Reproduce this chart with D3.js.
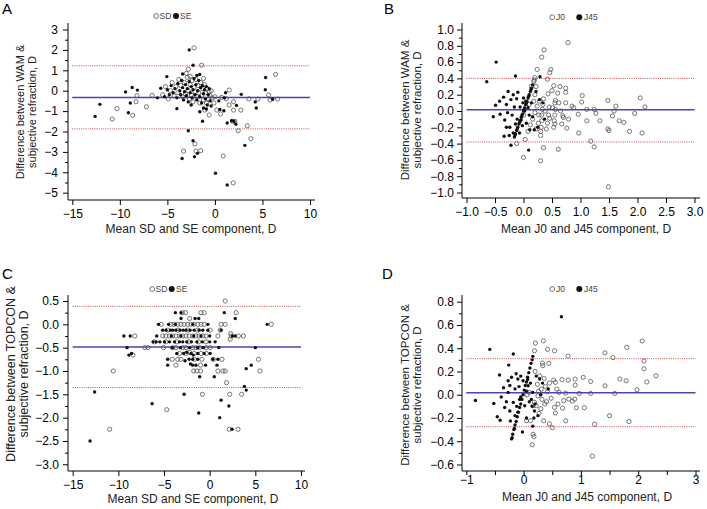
<!DOCTYPE html>
<html><head><meta charset="utf-8">
<script src="https://cdn.jsdelivr.net/npm/d3@7"></script>
<style>body{margin:0;background:#fff} svg{display:block} text{font-family:"Liberation Sans",Arial,Helvetica,sans-serif}</style>
</head><body><svg id="c" width="707" height="509"></svg>
<script>
// ---------- DATA ----------
const seriesAC = ["SD","SE"];
const seriesBD = ["J0","J45"];
const yTitleA = ["Difference between WAM &","subjective refraction, D"];
const yTitleB = ["Difference between WAM &","subjective refraction, D"];
const yTitleC = ["Difference between TOPCON &","subjective refraction, D"];
const yTitleD = ["Difference between TOPCON &","subjective refraction, D"];
const xTitleAC = "Mean SD and SE component, D";
const xTitleBD = "Mean J0 and J45 component, D";

const xTicksAC = [-15,-10,-5,0,5,10];
const yTicksA = [-5,-4,-3,-2,-1,0,1,2,3];
const yMinorA = [-4.5,-3.5,-2.5,-1.5,-0.5,0.5,1.5,2.5];
const xTicksB = [-1,-0.5,0,0.5,1,1.5,2,2.5,3];
const yTicksB = [-1,-0.8,-0.6,-0.4,-0.2,0,0.2,0.4,0.6,0.8,1];
const yMinorB = [-0.9,-0.7,-0.5,-0.3,-0.1,0.1,0.3,0.5,0.7,0.9];
const yTicksC = [-3,-2.5,-2,-1.5,-1,-0.5,0,0.5];
const yMinorC = [-2.75,-2.25,-1.75,-1.25,-0.75,-0.25,0.25];
const xTicksD = [-1,0,1,2,3];
const xMinorD = [-0.5,0.5,1.5,2.5];
const yTicksD = [-0.6,-0.4,-0.2,0,0.2,0.4,0.6,0.8];
const yMinorD = [-0.5,-0.3,-0.1,0.1,0.3,0.5,0.7];

const meanA = -0.33, upA = 1.22, loA = -1.87;
const meanB = 0.015, upB = 0.40, loB = -0.38;
const meanC = -0.485, upC = 0.385, loC = -1.355;
const meanD = 0.017, upD = 0.31, loD = -0.275;

const sdA = [
[-2.2,2.1],[-1.4,1.25],[-2.8,1.05],[-10.8,-1.39],[-10.3,-0.88],[-8.65,-1.21],[-8.3,-0.54],[-8.2,-0.24],[-7.2,-0.79],[-6.6,-0.23],
[-3.3,-2.96],[-2.1,-2.61],[-2.0,-2.96],[-1.5,-2.94],[0.87,-3.2],[1.92,-4.52],[3.4,-1.72],[3.78,-2.35],[2.45,-1.96],[6.38,0.8],
[5.65,-0.21],[5.8,-0.46],[6.6,-0.41],[4.52,-0.41],[3.57,-0.4],[2.73,-0.95],[1.96,-0.95],[1.5,0.03],[1.96,-0.54],[0.2,-0.95],
[0.59,-1.14],[-0.6,-1.19],[-1.06,-0.95],[1.2,-0.4],[0.7,-0.33],[1.5,-0.7],[1.85,-1.5],[2.1,-1.5],
[-5.5,-0.2],[-5.2,0.2],[-4.9,-0.4],[-4.7,0.0],[-4.5,0.4],[-4.3,-0.25],[-4.1,0.2],[-3.9,-0.1],[-3.8,0.55],[-3.6,0.25],
[-3.4,-0.3],[-3.2,0.4],[-3.1,-0.15],[-2.9,0.65],[-2.8,0.0],[-2.7,-0.4],[-2.6,0.3],[-2.5,-0.2],[-2.4,0.5],[-2.3,-0.55],
[-2.2,0.15],[-2.1,-0.05],[-2.0,0.55],[-1.9,-0.3],[-1.8,0.25],[-1.7,-0.1],[-1.6,-0.6],[-1.5,0.4],[-1.4,-0.25],[-1.3,0.1],
[-1.2,-0.45],[-1.1,0.3],[-1.0,-0.1],[-0.9,-0.6],[-0.8,0.1],[-0.7,-0.4],[-0.6,-0.05],[-0.5,-0.25],[-0.3,-0.35],[-0.1,-0.6],
[-3.0,0.85],[-2.6,0.7],[-1.2,0.6],[-0.4,0.0],[0.0,-0.3]
];
const seA = [
[-12.6,-1.26],[-12.1,-0.67],[-9.4,-0.06],[-8.7,0.16],[-8.15,0.03],[-8.9,-0.6],[-9.1,-1.08],[-5.06,0.69],[-5.7,0.12],[-6.05,-0.35],
[-4.0,-0.88],[-2.8,-1.96],[-2.3,-2.45],[-3.45,-3.32],[-2.15,-3.24],[-1.83,-3.07],[-1.3,-1.5],[0.06,-4.05],[1.29,-4.62],[1.29,-1.58],
[1.75,-1.47],[2.0,-1.5],[2.2,-1.64],[2.27,-0.72],[2.77,-0.18],[3.15,-2.68],[4.24,-0.55],[4.35,-0.85],[5.33,0.65],[5.3,0.05],
[6.07,-0.42],[-2.7,2.0],[-2.3,1.25],[1.12,-0.1],[0.52,-0.92],[0.94,-0.98],[-1.59,-1.03],[0.41,-0.5],[1.0,-0.35],
[-5.3,-0.3],[-5.0,0.05],[-4.8,-0.2],[-4.6,0.25],[-4.4,-0.1],[-4.2,0.1],[-4.0,-0.35],[-3.9,0.35],[-3.7,0.0],[-3.6,-0.2],
[-3.5,0.5],[-3.4,0.15],[-3.3,-0.45],[-3.2,-0.05],[-3.1,0.3],[-3.0,-0.25],[-2.9,0.1],[-2.8,-0.55],[-2.7,0.45],[-2.6,-0.1],
[-2.5,0.2],[-2.4,-0.35],[-2.3,0.05],[-2.2,0.6],[-2.1,-0.2],[-2.0,0.3],[-1.9,-0.45],[-1.8,0.0],[-1.7,0.5],[-1.6,-0.3],
[-1.5,0.15],[-1.4,-0.6],[-1.3,0.25],[-1.2,-0.15],[-1.1,0.05],[-1.0,-0.4],[-0.9,0.2],[-0.8,-0.7],[-0.7,-0.2],[-0.6,0.1],
[-0.5,-0.5],[-1.9,0.75],[-1.6,0.8],[-3.4,0.82],[-2.5,-0.7],[-1.2,-0.85],[-0.9,-0.9],[-0.4,-0.75]
];

const j0B = [
[0.78,0.84],[0.36,0.75],[0.32,0.66],[0.24,0.51],[0.48,0.51],[0.46,0.47],[0.42,0.39],[0.0,-0.57],[0.03,-0.35],[0.3,-0.61],
[0.35,-0.45],[0.61,-0.47],[-0.12,-0.4],[1.49,-0.93],[1.18,-0.37],[1.24,-0.44],[2.05,0.16],[2.13,0.05],[1.95,-0.03],[2.08,-0.27],
[1.86,-0.25],[1.76,-0.14],[1.68,-0.12],[1.62,0.06],[1.59,0.0],[1.56,-0.06],[1.48,0.13],[1.48,-0.22],[1.5,-0.24],[1.34,-0.12],
[1.27,-0.03],[1.24,0.02],[1.11,0.02],[1.11,-0.12],[1.03,0.19],[1.02,0.11],[0.97,-0.27],[0.96,-0.04],[0.88,0.04],[0.85,0.06],
[0.79,-0.1],[0.76,-0.21],[0.74,0.1],[0.74,0.23],[0.74,0.28],[0.69,-0.06],[0.67,-0.16],[0.64,0.3],[0.62,0.1],[0.6,0.22],
[0.55,-0.16],[0.56,0.13],[0.53,0.31],[0.5,0.25],[0.51,0.04],[0.46,-0.09],[0.43,0.21],
[0.3,-0.3],[0.3,-0.25],[0.31,-0.2],[0.32,-0.12],[0.32,-0.05],[0.33,0.02],[0.34,0.08],[0.35,0.15],[0.28,0.12],[0.53,-0.2],
[0.54,-0.12],[0.55,-0.05],[0.56,0.02],[0.55,0.1],[0.42,-0.15],[0.44,-0.05],[0.45,0.05],[0.4,-0.22],[0.38,0.0],[0.08,-0.25],
[0.12,-0.17],[0.16,-0.1],[0.2,-0.02],[0.24,0.06],[0.26,-0.15],[0.22,-0.22],[0.18,0.12],[0.14,0.3],[0.18,0.36],[0.19,0.38],
[0.2,0.41],[0.05,0.05],[0.1,0.08],[0.0,-0.05],[0.27,-0.05],[0.2,0.2],[0.22,0.3],[0.7,-0.08],[0.65,0.0]
];
const j45B = [
[-0.48,0.6],[-0.645,0.36],[-0.14,0.43],[0.29,0.42],[-0.53,-0.07],[-0.49,0.07],[-0.41,-0.04],[-0.35,0.17],[-0.27,0.24],[-0.34,-0.31],
[-0.22,-0.42],[0.09,-0.48],[-0.33,-0.11],[-0.24,-0.2],[-0.18,-0.27],[-0.07,-0.27],[-0.04,-0.11],[0.05,-0.15],[0.11,-0.23],[0.19,-0.23],
[0.22,0.24],[0.28,0.14],[0.34,0.1],[0.37,-0.1],[0.16,-0.07],[-0.16,0.05],[-0.28,-0.02],[-0.11,-0.1],[-0.01,0.1],[0.02,0.0],
[0.08,0.04],[-0.1,0.23],[-0.18,0.2],[-0.42,0.12],[-0.3,0.08],[-0.22,0.14],[-0.2,-0.05],[-0.12,0.15],[-0.06,0.05],[-0.02,-0.18],
[0.04,0.12],[0.1,-0.05],[0.14,0.1],[0.25,-0.2],[-0.25,-0.3],[-0.3,-0.2],[-0.14,-0.16],[0.0,0.16],
[-0.16,-0.32],[-0.15,-0.3],[-0.14,-0.28],[-0.12,-0.24],[-0.11,-0.22],[-0.1,-0.2],[-0.08,-0.16],[-0.07,-0.14],[-0.06,-0.12],[-0.04,-0.08],
[-0.03,-0.06],[-0.02,-0.04],[0.0,0.0],[0.01,0.02],[0.02,0.04],[0.04,0.08],[0.05,0.1],[0.06,0.12],[0.08,0.16],[0.09,0.18],
[0.1,0.2],[0.12,0.24],[0.13,0.26],[0.14,0.28],[0.16,0.32]
];

const sdC = [
[1.7,0.5],[-10.55,-1.0],[-10.95,-2.25],[-4.7,-1.83],[6.75,0.0],[5.35,-0.75],[5.5,-1.0],[2.15,-2.25],[3.1,-2.25],[-0.8,-1.5],
[2.2,-1.5],[3.5,-1.5],[1.85,-1.25],[0.9,-1.0],[1.45,-1.0],[1.7,-1.0],[-8.2,-0.25],[-7.1,-0.5],[-6.75,-0.5],[-8.4,-0.66],
[-5.05,-0.5],[2.9,0.25],[3.7,-0.25],[2.35,-0.25],[3.15,-0.25],[2.25,-0.32],[1.25,0.0],[1.7,0.0],[1.15,-0.125],[0.9,-0.25],
[1.35,-0.75],[-1.75,-1.0],[-1.4,-1.0],[-1.0,-1.0],[2.3,-0.2],
[-3.0,0.25],[-2.65,0.25],[-0.95,0.25],[-0.6,0.25],[-2.2,0.125],
[-5.3,0],[-4.25,0],[-3.9,0],[-3.5,0],[-3.15,0],[-2.8,0],[-2.4,0],[-2.05,0],[-1.7,0],[-1.3,0],[-0.95,0],[-0.6,0],
[-4.6,-0.125],[-3.45,-0.125],[-2.4,-0.125],[-1.3,-0.125],[0.05,-0.125],
[-5.15,-0.25],[-4.8,-0.25],[-4.4,-0.25],[-4.05,-0.25],[-3.7,-0.25],[-3.3,-0.25],[-2.95,-0.25],[-2.6,-0.25],[-2.25,-0.25],[-1.85,-0.25],[-1.5,-0.25],[-1.15,-0.25],[-0.75,-0.25],[-0.4,-0.25],
[-6.05,-0.375],[-4.8,-0.375],[-3.6,-0.375],[-2.3,-0.375],[-1.2,-0.375],[-0.4,-0.375],
[-4.05,-0.5],[-3.7,-0.5],[-2.95,-0.5],[-2.6,-0.5],[-1.85,-0.5],[-1.5,-0.5],[-1.1,-0.5],[-0.4,-0.5],[0.05,-0.5],
[-3.3,-0.625],[-2.6,-0.625],[-1.7,-0.625],[-0.95,-0.625],[-0.35,-0.625],[-2.2,-0.6],
[-4.1,-0.75],[-3.5,-0.75],[-3.15,-0.75],[-1.7,-0.75],[-0.85,-0.75],[0.4,-0.75],
[-3.7,-0.875],[-1.0,-0.875]
];
const seC = [
[-13.1,-2.5],[-12.6,-1.45],[-9.4,-0.25],[-8.7,-0.25],[-9.05,-0.5],[-8.85,-0.66],[-8.55,-0.625],[-6.3,-1.7],[-2.8,-1.5],[-1.2,-1.9],
[1.1,-2.0],[1.25,-1.625],[2.1,-1.75],[2.45,-2.25],[1.6,0.25],[2.8,0.125],[6.3,0.0],[5.0,-0.5],[4.0,-0.95],[4.55,-0.875],
[3.8,-1.33],[4.0,-1.41],[0.5,-1.125],[-1.1,-1.125],
[-3.76,0.25],[-3.14,0.25],[-3.14,0.125],[-1.6,0.125],[-1.2,0.125],
[-5.6,0],[-4.5,0],[-3.75,0],[-1.85,0],[-0.2,0],
[-5.15,-0.125],[-4.78,-0.125],[-4.3,-0.125],[-4.05,-0.125],[-3.7,-0.125],[-3.25,-0.125],[-2.9,-0.125],[-2.6,-0.125],[-2.15,-0.125],[-1.7,-0.125],[-1.15,-0.125],[-0.75,-0.125],[-0.2,-0.125],[1.25,-0.125],
[-5.8,-0.25],[-4.2,-0.25],[-3.15,-0.25],[-1.75,-0.25],[-0.95,-0.25],[0.0,-0.25],[2.5,-0.25],[2.8,-0.25],
[-6.2,-0.375],[-5.85,-0.375],[-5.45,-0.375],[-4.95,-0.375],[-4.4,-0.375],[-3.85,-0.375],[-3.3,-0.375],[-2.95,-0.375],[-2.5,-0.375],[-2.0,-0.375],[-1.4,-0.375],[-0.8,-0.375],[0.0,-0.375],[0.6,-0.375],
[-4.1,-0.5],[-3.2,-0.5],[-2.2,-0.5],[-1.3,-0.5],[-0.7,-0.5],[1.0,-0.5],
[-3.6,-0.625],[-2.85,-0.625],[-2.05,-0.625],[-1.3,-0.625],[-0.6,-0.625],[0.05,-0.625],[-2.5,-0.6],[-1.8,-0.66],
[-4.6,-0.75],[-2.25,-0.75],[-1.85,-0.75],[-1.3,-0.75],[0.35,-0.75],[0.9,-0.75],[-2.7,-0.78],
[-4.6,-0.875],[-1.85,-0.875],[-1.5,-0.875],[-0.45,-0.875],[0.8,-0.875],[-2.1,-0.85]
];

const j0D = [
[0.205,0.444],[0.345,0.464],[0.19,0.378],[0.42,0.39],[0.54,0.378],[0.776,0.332],[1.42,0.36],[1.56,0.32],[1.8,0.407],[2.07,0.462],
[2.1,0.29],[2.1,0.223],[2.15,0.11],[2.31,0.163],[1.98,0.043],[1.79,0.12],[1.68,0.135],[1.42,0.077],[1.59,0.011],[1.5,-0.18],
[1.84,-0.23],[1.24,-0.253],[1.2,-0.528],[1.17,0.011],[1.17,0.114],[1.04,0.149],[0.97,0.011],[1.06,-0.112],[0.9,0.134],[0.9,0.083],
[0.89,-0.038],[0.92,-0.112],[0.85,-0.055],[0.79,-0.038],[0.73,0.014],[0.78,0.126],[0.67,0.129],[0.735,-0.224],[0.68,-0.115],[0.58,0.048],
[0.555,0.106],[0.525,0.126],[0.6,-0.08],[0.555,-0.158],[0.54,-0.109],[0.5,-0.284],[0.45,-0.25],[0.35,-0.224],[0.415,0.026],[0.38,0.071],
[0.33,0.272],[0.335,0.25],[0.44,0.27],[0.28,0.163],[0.31,0.048],[0.25,-0.01],[0.19,-0.066],[0.165,-0.095],[0.22,-0.095],[0.37,-0.08],
[0.05,-0.224],[0.12,-0.224],[0.165,-0.34],[0.18,-0.36],[0.15,-0.43],[0.3,-0.12],[0.27,-0.16],[0.4,-0.06],[0.45,0.1],[0.24,0.09],
[0.2,0.2],[0.36,0.14],[0.62,0.02],[0.7,-0.05],[0.48,-0.03],[0.26,0.03],[0.32,-0.04],[0.06,0.0],[0.1,0.02]
];
const j45D = [
[0.66,0.67],[-0.59,0.39],[-0.18,0.35],[-0.84,-0.05],[-0.52,-0.075],[-0.42,0.17],[-0.26,0.255],[-0.39,-0.02],[-0.41,-0.22],[-0.23,-0.225],
[-0.16,-0.29],[-0.2,-0.37],[-0.21,-0.38],[-0.02,-0.32],[0.16,-0.27],[-0.46,-0.19],[-0.33,-0.11],[-0.27,0.12],[-0.21,0.15],[-0.13,0.18],
[-0.1,0.135],[-0.01,0.12],[0.08,0.077],[0.16,0.02],[0.19,-0.14],[0.25,-0.18],[0.22,0.16],[0.28,0.135],[0.43,0.05],[0.135,-0.04],
[0.02,-0.095],[-0.07,-0.04],[-0.18,-0.066],[-0.27,0.02],[-0.35,0.06],[-0.3,-0.06],[-0.24,0.08],[-0.15,0.05],[-0.12,-0.1],[-0.08,0.07],
[-0.05,-0.02],[0.05,0.03],[0.1,-0.06],[0.12,0.1],[-0.15,-0.18],[-0.1,-0.15],[0.05,-0.2],[0.2,-0.08],[0.3,0.0],[0.33,0.1],
[-0.05,0.16],[0.07,0.13],[0.18,-0.2],[-0.24,-0.14],[0.15,-0.1],
[-0.19,-0.34],[-0.17,-0.3],[-0.15,-0.26],[-0.13,-0.23],[-0.11,-0.19],[-0.09,-0.15],[-0.07,-0.11],[-0.05,-0.08],[-0.03,-0.04],[-0.01,0.0],
[0.01,0.04],[0.03,0.08],[0.05,0.11],[0.07,0.15],[0.09,0.19],[0.11,0.23],[0.13,0.27],[0.15,0.3],[0.16,0.33]
];

// ---------- DRAW ----------
const FONT = '"Liberation Sans",Arial,Helvetica,sans-serif';
const fInt = d3.format("d"), f1 = d3.format(".1f");
const svg = d3.select("#c");

const panels = [
 {letter:"A", lx:2, ly:14, open:sdA, filled:seA, names:seriesAC, mean:meanA, up:upA, lo:loA,
  xTicks:xTicksAC, xMinor:[], yTicks:yTicksA, yMinor:yMinorA, xFmt:fInt, yFmt:fInt,
  xd:[-15,10], xr:[72.3,310], yd:[3,-5], yr:[29.5,192.7], box:{l:68,r:315,t:23,b:200}, ypad:5,
  xts:5, xpad:4.5,
  xTitle:xTitleAC, xtx:191, xty:233, yTitle:yTitleA, ytf:11, yt1:24, yt2:36, yty:112,
  leg:{c1:156.7, t1:159.5, c2:176, t2:180, y:16}},
 {letter:"B", lx:384, ly:14, open:j0B, filled:j45B, names:seriesBD, mean:meanB, up:upB, lo:loB,
  xTicks:xTicksB, xMinor:[], yTicks:yTicksB, yMinor:yMinorB, xFmt:f1, yFmt:f1,
  xd:[-1,3], xr:[466.5,694.5], yd:[1,-1], yr:[29.5,192.5], box:{l:462,r:700,t:23,b:198}, ypad:3,
  xts:5, xpad:4.5,
  xTitle:xTitleBD, xtx:586, xty:233, yTitle:yTitleB, ytf:11.5, yt1:409, yt2:421, yty:110,
  leg:{c1:552.7, t1:556, c2:579.3, t2:584, y:17.3}},
 {letter:"C", lx:2, ly:278.5, open:sdC, filled:seC, names:seriesAC, mean:meanC, up:upC, lo:loC,
  xTicks:xTicksAC, xMinor:[], yTicks:yTicksC, yMinor:yMinorC, xFmt:fInt, yFmt:f1,
  xd:[-15,10], xr:[72.7,301], yd:[0.5,-3], yr:[301,464.3], box:{l:68,r:305,t:295,b:471}, ypad:4,
  xts:5, xpad:4.5,
  xTitle:xTitleAC, xtx:193, xty:503, yTitle:yTitleC, ytf:12.5, yt1:15, yt2:27.5, yty:374,
  leg:{c1:152.7, t1:155.5, c2:171.7, t2:176, y:289}},
 {letter:"D", lx:382, ly:278.5, open:j0D, filled:j45D, names:seriesBD, mean:meanD, up:upD, lo:loD,
  xTicks:xTicksD, xMinor:xMinorD, yTicks:yTicksD, yMinor:yMinorD, xFmt:fInt, yFmt:f1,
  xd:[-1,3], xr:[466.3,695.5], yd:[0.8,-0.6], yr:[301.7,464.5], box:{l:462,r:700,t:295,b:471}, ypad:3,
  xts:4, xpad:0,
  xTitle:xTitleBD, xtx:587, xty:501, yTitle:yTitleD, ytf:11.5, yt1:409, yt2:421, yty:385,
  leg:{c1:552.7, t1:556, c2:579.3, t2:584, y:289}}
];

function styleAxis(sel){
  sel.select(".domain").remove();
  sel.attr("font-family", FONT).attr("font-size", 12);
  sel.selectAll("line").attr("stroke","#000");
  sel.selectAll("text").attr("fill","#000");
}

panels.forEach(p => {
  const g = svg.append("g");
  const x = d3.scaleLinear().domain(p.xd).range(p.xr);
  const y = d3.scaleLinear().domain(p.yd).range(p.yr);

  g.append("text").attr("x", p.lx).attr("y", p.ly).attr("font-size", 15).attr("fill","#000").text(p.letter);

  // reference lines
  g.append("line").attr("x1", x(p.xd[0])).attr("x2", x(p.xd[1])).attr("y1", y(p.up)).attr("y2", y(p.up))
    .attr("stroke","#d04848").attr("stroke-width",1).attr("stroke-dasharray","1,1.2");
  g.append("line").attr("x1", x(p.xd[0])).attr("x2", x(p.xd[1])).attr("y1", y(p.lo)).attr("y2", y(p.lo))
    .attr("stroke","#d04848").attr("stroke-width",1).attr("stroke-dasharray","1,1.2");
  g.append("line").attr("x1", x(p.xd[0])).attr("x2", x(p.xd[1])).attr("y1", y(p.mean)).attr("y2", y(p.mean))
    .attr("stroke","#4646b4").attr("stroke-width",1.6);

  // points
  g.append("g").selectAll("circle").data(p.open).join("circle")
    .attr("cx", d => x(d[0])).attr("cy", d => y(d[1])).attr("r", 2.1)
    .attr("fill","none").attr("stroke","#555").attr("stroke-width",0.8);
  g.append("g").selectAll("circle").data(p.filled).join("circle")
    .attr("cx", d => x(d[0])).attr("cy", d => y(d[1])).attr("r", 1.7)
    .attr("fill","#111");

  // axes
  g.append("path").attr("d", `M${p.box.l},${p.box.t}V${p.box.b}H${p.box.r}`)
    .attr("fill","none").attr("stroke","#000").attr("stroke-width",1);
  g.append("g").attr("transform", `translate(${p.box.l},0)`)
    .call(d3.axisLeft(y).tickValues(p.yTicks).tickSize(5).tickPadding(p.ypad).tickFormat(p.yFmt)).call(styleAxis);
  g.append("g").attr("transform", `translate(${p.box.l},0)`)
    .call(d3.axisLeft(y).tickValues(p.yMinor).tickSize(3).tickFormat("")).call(styleAxis);
  g.append("g").attr("transform", `translate(0,${p.box.b})`)
    .call(d3.axisBottom(x).tickValues(p.xTicks).tickSize(p.xts).tickPadding(p.xpad).tickFormat(p.xFmt)).call(styleAxis);
  if (p.xMinor.length)
    g.append("g").attr("transform", `translate(0,${p.box.b})`)
      .call(d3.axisBottom(x).tickValues(p.xMinor).tickSize(p.xts).tickFormat("")).call(styleAxis);

  // titles
  g.append("text").attr("x", p.xtx).attr("y", p.xty).attr("text-anchor","middle")
    .attr("font-size", 12).attr("fill","#222").text(p.xTitle);
  [p.yt1, p.yt2].forEach((bx, i) => {
    g.append("text").attr("transform", `translate(${bx},${p.yty}) rotate(-90)`)
      .attr("text-anchor","middle").attr("font-size", p.ytf).attr("fill","#222").text(p.yTitle[i]);
  });

  // legend
  const L = p.leg;
  g.append("circle").attr("cx", L.c1 - 0.5).attr("cy", L.y).attr("r", 2.4)
    .attr("fill","none").attr("stroke","#555").attr("stroke-width",0.8);
  g.append("text").attr("x", L.t1).attr("y", L.y + 3).attr("font-size", 8.5).attr("fill","#444").text(p.names[0]);
  g.append("circle").attr("cx", L.c2).attr("cy", L.y).attr("r", 3).attr("fill","#111");
  g.append("text").attr("x", L.t2).attr("y", L.y + 3).attr("font-size", 8.5).attr("fill","#444").text(p.names[1]);
});
</script>
</body></html>
